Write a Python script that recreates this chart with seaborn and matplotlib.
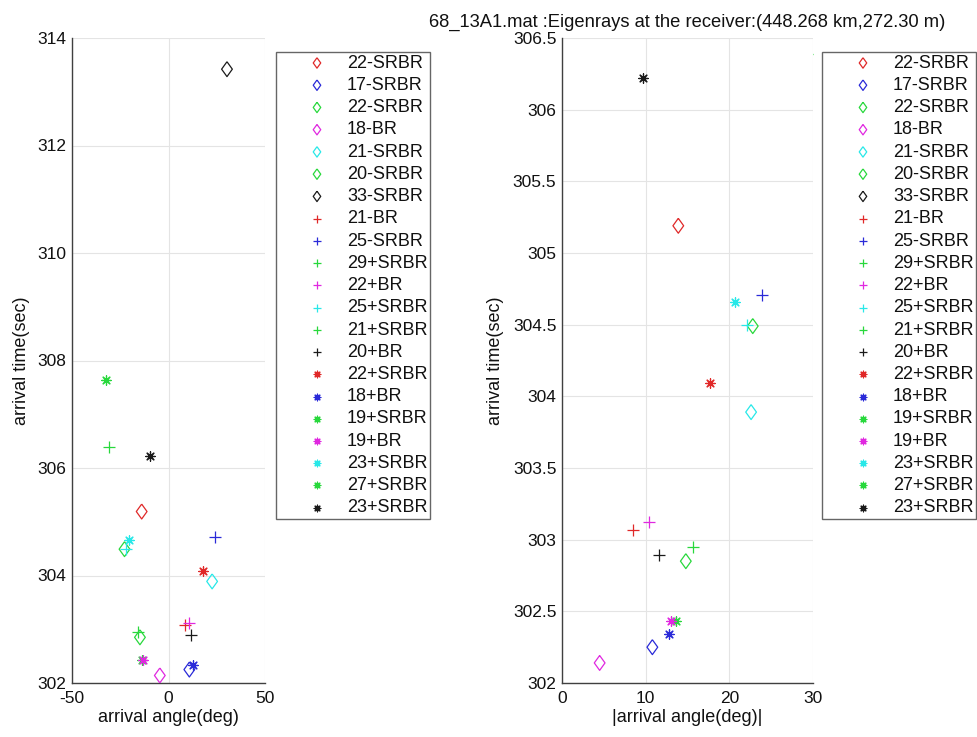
import numpy as np
import matplotlib
matplotlib.use("Agg")
import matplotlib.pyplot as plt
import seaborn as sns

# ray labels, colours and markers (same order as the legend)
ray_labels = ["22-SRBR", "17-SRBR", "22-SRBR", "18-BR", "21-SRBR", "20-SRBR", "33-SRBR",
              "21-BR", "25-SRBR", "29+SRBR", "22+BR", "25+SRBR", "21+SRBR", "20+BR",
              "22+SRBR", "18+BR", "19+SRBR", "19+BR", "23+SRBR", "27+SRBR", "23+SRBR"]
ray_colors = ["r", "b", "g", "m", "c", "g", "k",
              "r", "b", "g", "m", "c", "g", "k",
              "r", "b", "g", "m", "c", "g", "k"]
ray_markers = ["D"] * 7 + ["+"] * 7 + ["*"] * 7

# arrival angle (deg) and arrival time (sec)
arrival_angle = [-13.9, 10.8, -14.8, -4.5, 22.6, -22.8, 30.3,
                 8.5, 23.9, -30.7, 10.4, -22.1, -15.6, 11.6,
                 17.7, 12.8, -13.6, -13.0, -20.7, -32.4, -9.7]
arrival_time = [305.19, 302.25, 302.85, 302.14, 303.89, 304.49, 313.42,
                303.07, 304.71, 306.39, 303.12, 304.50, 302.95, 302.89,
                304.09, 302.34, 302.43, 302.43, 304.66, 307.64, 306.22]

title_txt = "68_13A1.mat :Eigenrays at the receiver:(448.268 km,272.30 m)"

# matlab-like colours, a bit muted as in the picture
cmap = {"r": "#e02828", "b": "#2a2ad8", "g": "#28d83c", "m": "#e028e0",
        "c": "#28e8e8", "k": "#1a1a1a"}

# matlab diamond is a bit taller than wide
diamond = [(0, 1), (0.72, 0), (0, -1), (-0.72, 0), (0, 1)]

sns.set_style("white")
plt.rcParams["font.family"] = ["Liberation Sans", "DejaVu Sans"]
plt.rcParams["axes.unicode_minus"] = False
plt.rcParams["text.color"] = "#111111"
plt.rcParams["axes.labelcolor"] = "#111111"

fig = plt.figure(figsize=(9.77, 7.37), dpi=100)
W, H = 977.0, 737.0
ax1 = fig.add_axes([72 / W, 1 - 683 / H, 193 / W, 645 / H])
ax2 = fig.add_axes([562 / W, 1 - 683 / H, 251 / W, 645 / H])


def draw_rays(ax, xs):
    for i in range(len(ray_labels)):
        c = cmap[ray_colors[i]]
        m = ray_markers[i]
        if m == "D":
            sns.scatterplot(x=[xs[i]], y=[arrival_time[i]], ax=ax, marker=diamond, s=115,
                            color=c, facecolor="none", edgecolor=c, linewidth=0.9,
                            label=ray_labels[i], zorder=3)
        elif m == "+":
            sns.scatterplot(x=[xs[i]], y=[arrival_time[i]], ax=ax, marker="+", s=64,
                            color=c, linewidth=0.9, label=ray_labels[i], zorder=3)
        else:
            sns.scatterplot(x=[xs[i]], y=[arrival_time[i]], ax=ax, marker=(8, 2, 0), s=46,
                            color=c, linewidth=0.9, label=ray_labels[i], zorder=3)


def style_axes(ax):
    for sp in ["top", "right"]:
        ax.spines[sp].set_visible(False)
    for sp in ["left", "bottom"]:
        ax.spines[sp].set_color("#404040")
        ax.spines[sp].set_linewidth(1.0)
    ax.grid(True, color="#e4e4e4", linewidth=0.8)
    ax.set_axisbelow(True)
    ax.tick_params(direction="in", length=5, width=0.8, color="#404040",
                   labelsize=12.5, labelcolor="#111111")
    ax.tick_params(axis="x", pad=6)
    ax.tick_params(axis="y", pad=4)


draw_rays(ax1, arrival_angle)
ax1.set_xlim(-50, 50)
ax1.set_ylim(302, 314)
ax1.set_xticks([-50, 0, 50])
ax1.set_yticks(np.arange(302, 315, 2))
ax1.set_xlabel("arrival angle(deg)", fontsize=13, labelpad=2)
ax1.set_ylabel("arrival time(sec)", fontsize=13, labelpad=5)
style_axes(ax1)

draw_rays(ax2, np.abs(arrival_angle))
ax2.set_xlim(0, 30)
ax2.set_ylim(302, 306.5)
ax2.set_xticks([0, 10, 20, 30])
ax2.set_yticks(np.arange(302, 306.6, 0.5))
ax2.set_yticklabels(["%g" % v for v in np.arange(302, 306.6, 0.5)])
ax2.set_xlabel("|arrival angle(deg)|", fontsize=13, labelpad=2)
ax2.set_ylabel("arrival time(sec)", fontsize=13, labelpad=6)
ax2.set_title(title_txt, fontsize=13.2, pad=8)
style_axes(ax2)

for ax, x0 in [(ax1, 276), (ax2, 822)]:
    leg = ax.legend(loc="upper left", bbox_to_anchor=(x0 / W, 1 - 52 / H),
                    bbox_transform=fig.transFigure, fontsize=13, frameon=True,
                    fancybox=False, borderpad=0.15, labelspacing=0.29,
                    handlelength=4.24, handletextpad=-0.46, markerscale=0.7,
                    borderaxespad=0)
    leg.get_frame().set_edgecolor("#404040")
    leg.get_frame().set_linewidth(1.0)
    leg.set_zorder(5)

fig.savefig("out.png", dpi=100)
